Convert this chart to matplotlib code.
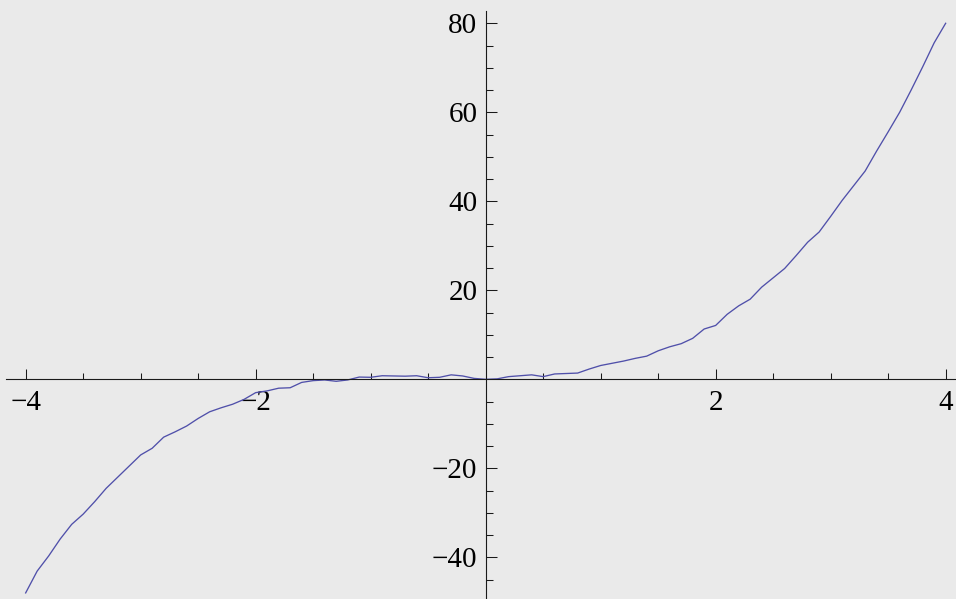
import matplotlib
matplotlib.use('Agg')
import matplotlib.pyplot as plt
from matplotlib.ticker import FixedLocator
import numpy as np

# values
xs = [-4.0, -3.9, -3.8, -3.7, -3.6, -3.5, -3.4, -3.3, -3.2, -3.1,
      -3.0, -2.9, -2.8, -2.7, -2.6, -2.5, -2.4, -2.3, -2.2, -2.1,
      -2.0, -1.9, -1.8, -1.7, -1.6, -1.5, -1.4, -1.3, -1.2, -1.1,
      -1.0, -0.9, -0.8, -0.7, -0.6, -0.5, -0.4, -0.3, -0.2, -0.1,
      0.0, 0.1, 0.2, 0.3, 0.4, 0.5, 0.6, 0.7, 0.8, 0.9,
      1.0, 1.1, 1.2, 1.3, 1.4, 1.5, 1.6, 1.7, 1.8, 1.9,
      2.0, 2.1, 2.2, 2.3, 2.4, 2.5, 2.6, 2.7, 2.8, 2.9,
      3.0, 3.1, 3.2, 3.3, 3.4, 3.5, 3.6, 3.7, 3.8, 3.9, 4.0]
ys = [-48.0, -43.1, -39.7, -35.9, -32.6, -30.3, -27.5, -24.5, -22.0, -19.5,
      -17.0, -15.5, -13.0, -11.8, -10.5, -8.8, -7.3, -6.4, -5.6, -4.5,
      -3.0, -2.6, -2.0, -1.9, -0.7, -0.3, -0.15, -0.45, -0.15, 0.5,
      0.45, 0.8, 0.75, 0.7, 0.8, 0.35, 0.45, 1.0, 0.75, 0.2,
      0.0, 0.1, 0.6, 0.8, 1.0, 0.6, 1.2, 1.3, 1.4, 2.3,
      3.1, 3.6, 4.1, 4.7, 5.2, 6.4, 7.3, 8.0, 9.2, 11.3,
      12.1, 14.6, 16.5, 18.0, 20.7, 22.8, 24.9, 27.8, 30.8, 33.1,
      36.6, 40.2, 43.5, 46.8, 51.3, 55.6, 60.0, 65.0, 70.2, 75.6, 80.0]

xmajor = [-4, -2, 2, 4]
xminor = [-3.5, -3, -2.5, -1.5, -1, -0.5, 0.5, 1, 1.5, 2.5, 3, 3.5]
ymajor = [-40, -20, 20, 40, 60, 80]
yminor = [v for v in range(-45, 85, 5) if v % 20 != 0]

bg = '#eaeaea'
axcol = '#1a1a1a'

fig = plt.figure(figsize=(9.56, 5.99), dpi=100, facecolor=bg)
ax = fig.add_axes([6 / 956, 0, 1 - 6 / 956, (599 - 11) / 599])
ax.set_facecolor(bg)

ax.plot(xs, ys, color='#5050aa', lw=0.95)

ax.set_xlim(-4.171, 4.090)
ax.set_ylim(-49.37, 82.76)

ax.spines['left'].set_position(('data', 0))
ax.spines['bottom'].set_position(('data', 0))
ax.spines['top'].set_visible(False)
ax.spines['right'].set_visible(False)
for s in ['left', 'bottom']:
    ax.spines[s].set_color(axcol)
    ax.spines[s].set_linewidth(0.8)

ax.xaxis.set_major_locator(FixedLocator(xmajor))
ax.xaxis.set_minor_locator(FixedLocator(xminor))
ax.yaxis.set_major_locator(FixedLocator(ymajor))
ax.yaxis.set_minor_locator(FixedLocator(yminor))

font = {'family': 'Liberation Serif', 'size': 21}
ax.set_xticklabels([f'{v:g}'.replace('-', '\u2212') for v in xmajor], fontdict=font)
ax.set_yticklabels([f'{v:g}'.replace('-', '\u2212') for v in ymajor], fontdict=font)

ax.tick_params(axis='x', which='major', direction='in', length=7.3, width=0.75, color=axcol, pad=8)
ax.tick_params(axis='x', which='minor', direction='in', length=4.4, width=0.75, color=axcol)
ax.tick_params(axis='y', which='major', direction='in', length=7.9, width=0.75, color=axcol, pad=6)
ax.tick_params(axis='y', which='minor', direction='in', length=4.8, width=0.75, color=axcol)

fig.savefig('out.png', dpi=100, facecolor=bg)
